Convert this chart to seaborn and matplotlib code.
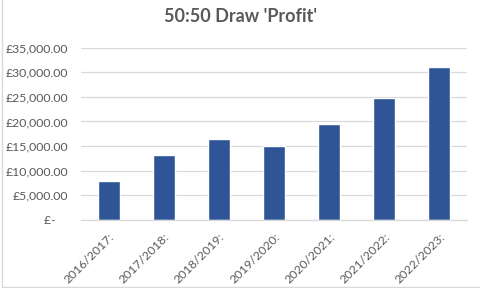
import matplotlib
matplotlib.use("Agg")
import matplotlib.pyplot as plt
import matplotlib.transforms as mtransforms
import seaborn as sns
import pandas as pd
from matplotlib.lines import Line2D

seasons = ["2016/2017:", "2017/2018:", "2018/2019:", "2019/2020:",
           "2020/2021:", "2021/2022:", "2022/2023:"]
profit = [7900, 13200, 16400, 15000, 19500, 24800, 31100]
yticks = [0, 5000, 10000, 15000, 20000, 25000, 30000, 35000]
title = "50:50 Draw 'Profit'"

df = pd.DataFrame({"season": seasons, "profit": profit})

sns.set_theme(style="white")
plt.rcParams['font.family'] = ['Lato', 'DejaVu Sans']

fig = plt.figure(figsize=(4.81, 2.88), dpi=100)
ax = fig.add_axes([81/481, (288-220)/288, 386/481, (220-47.5)/288])

sns.barplot(data=df, x="season", y="profit", color="#2F5597", width=0.4,
            saturation=1, ax=ax)

ax.set_ylim(0, 35000)
ax.set_xlim(-0.5, len(seasons) - 0.5)
ax.set_yticks(yticks)

def fmt(v):
    return "£-    " if v == 0 else f"£{v:,.2f}"

ax.set_yticklabels([fmt(v) for v in yticks], color="#595959", fontsize=8.8)
ax.set_xticks(range(len(seasons)))
ax.set_xticklabels(seasons, rotation=45, ha="right", va="top",
                   rotation_mode="anchor", color="#595959", fontsize=8.8)
offset = mtransforms.ScaledTranslation(-10/100, -1/100, fig.dpi_scale_trans)
for lbl in ax.get_xticklabels():
    lbl.set_transform(lbl.get_transform() + offset)
ax.tick_params(axis="y", length=0, pad=9)
ax.tick_params(axis="x", length=0, pad=8)
ax.set_xlabel("")
ax.set_ylabel("")
ax.grid(axis="y", color="#D9D9D9", linewidth=0.9)
ax.set_axisbelow(True)
for s in ["left", "right", "top"]:
    ax.spines[s].set_visible(False)
ax.spines["bottom"].set_color("#D9D9D9")
ax.spines["bottom"].set_linewidth(0.9)

fig.text(0.5, 1 - 17/288, title, ha="center", va="center",
         fontsize=13, fontweight="bold", color="#595959")

# chart border (left and bottom visible)
fig.add_artist(Line2D([1.5/481, 1.5/481], [1.5/288, 1], transform=fig.transFigure,
                      color="#D9D9D9", linewidth=1))
fig.add_artist(Line2D([1.5/481, 1], [1.5/288, 1.5/288], transform=fig.transFigure,
                      color="#D9D9D9", linewidth=1))

fig.savefig("out.png", dpi=100)
